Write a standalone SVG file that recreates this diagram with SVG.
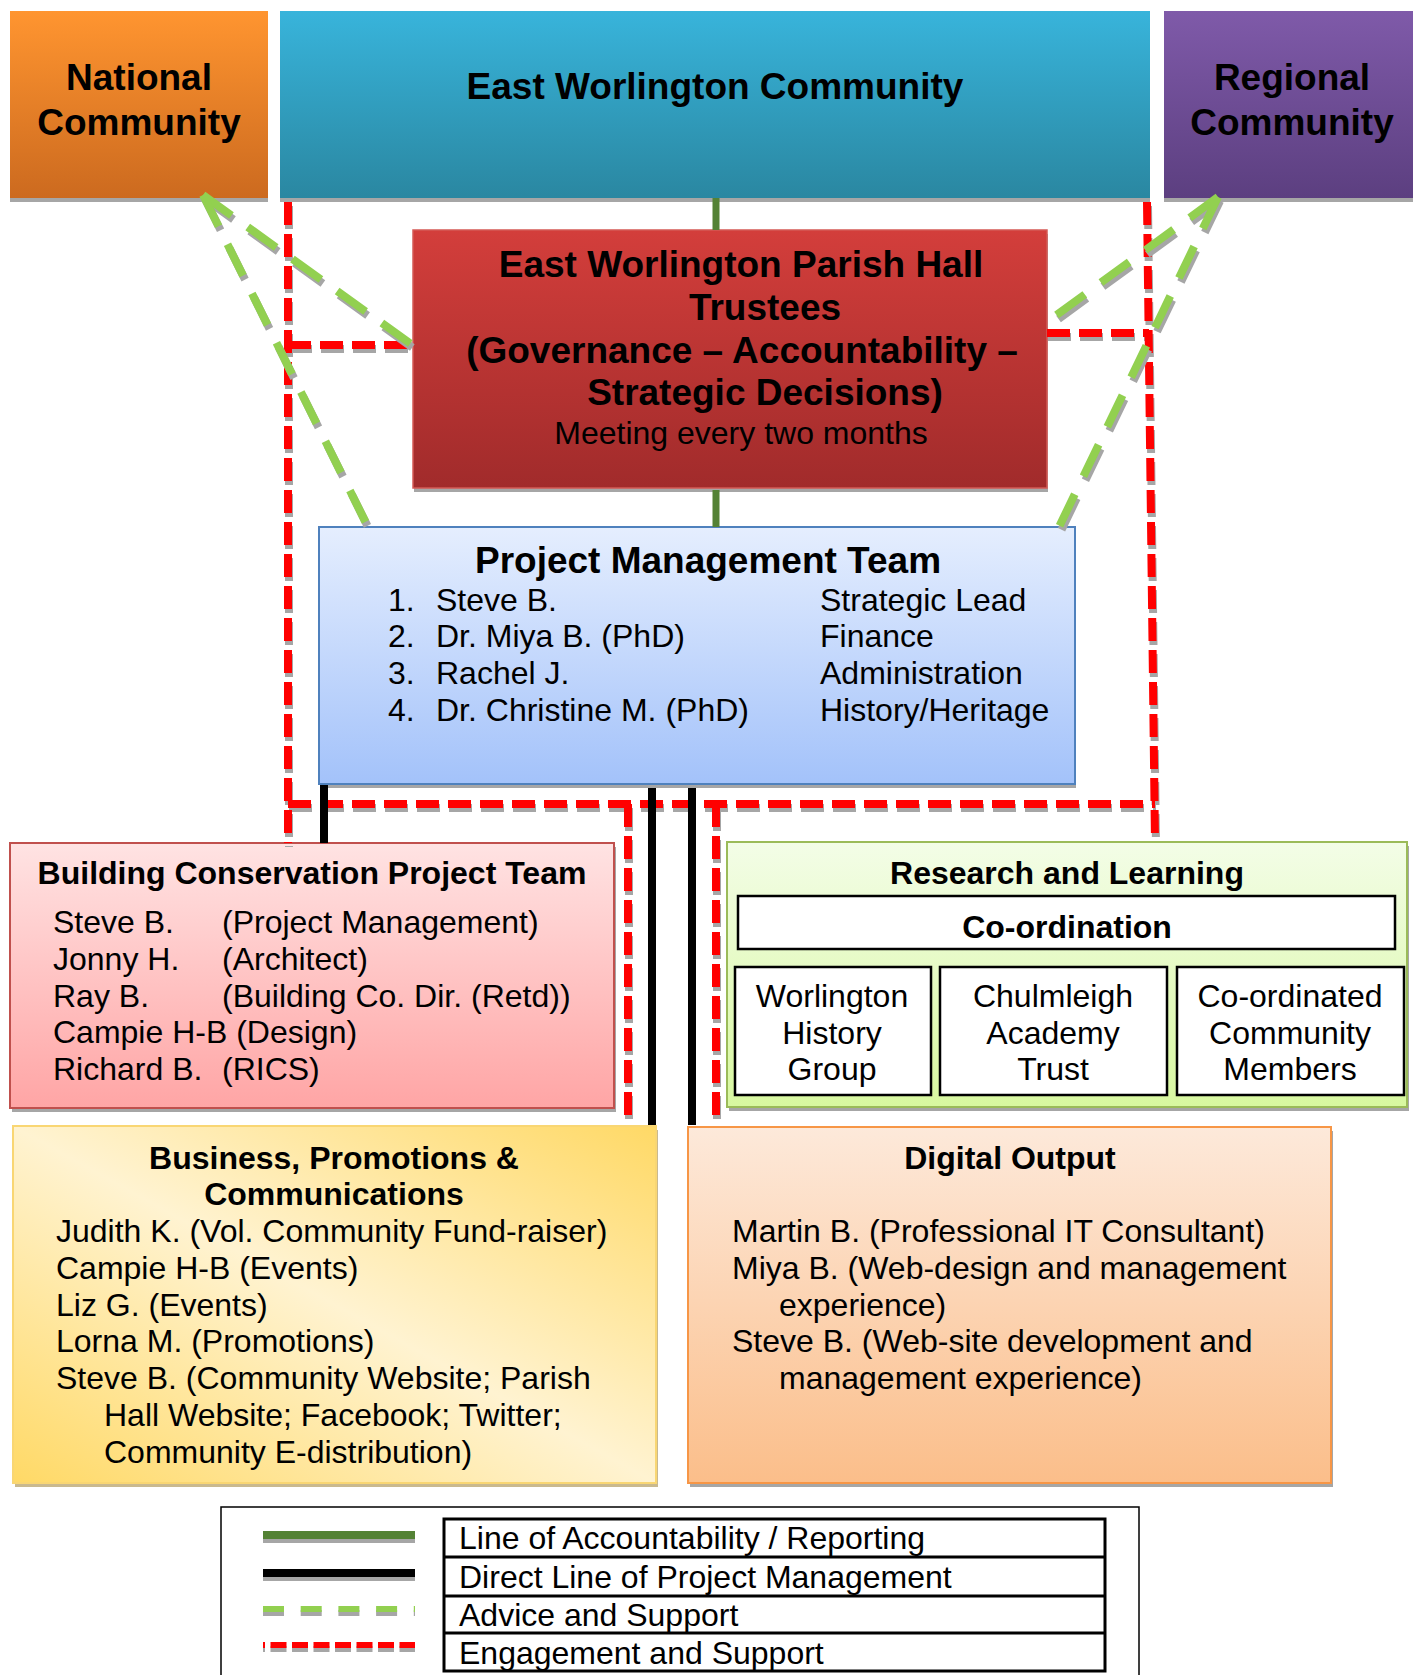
<svg xmlns="http://www.w3.org/2000/svg" xmlns:xlink="http://www.w3.org/1999/xlink" width="1413" height="1675" viewBox="0 0 1413 1675">
<defs>
<linearGradient id="gNat" x1="0" y1="0" x2="0" y2="1"><stop offset="0" stop-color="#FF9530"/><stop offset="1" stop-color="#CC6A1F"/></linearGradient>
<linearGradient id="gEast" x1="0" y1="0" x2="0" y2="1"><stop offset="0" stop-color="#38B4DB"/><stop offset="1" stop-color="#2A87A1"/></linearGradient>
<linearGradient id="gReg" x1="0" y1="0" x2="0" y2="1"><stop offset="0" stop-color="#7F5AA9"/><stop offset="1" stop-color="#5C3F80"/></linearGradient>
<linearGradient id="gTru" x1="0" y1="0" x2="0" y2="1"><stop offset="0" stop-color="#D33E3B"/><stop offset="1" stop-color="#A12B2B"/></linearGradient>
<linearGradient id="gPmt" x1="0" y1="0" x2="0" y2="1"><stop offset="0" stop-color="#E5EEFE"/><stop offset="1" stop-color="#A3C2FA"/></linearGradient>
<linearGradient id="gBld" x1="0" y1="0" x2="0" y2="1"><stop offset="0" stop-color="#FFE3E3"/><stop offset="1" stop-color="#FFA5A5"/></linearGradient>
<linearGradient id="gRes" x1="0" y1="0" x2="0" y2="1"><stop offset="0" stop-color="#F3FDE7"/><stop offset="1" stop-color="#D8F8A0"/></linearGradient>
<linearGradient id="gBus" x1="0" y1="1" x2="1" y2="0"><stop offset="0" stop-color="#FFD966"/><stop offset="0.5" stop-color="#FFF3D1"/><stop offset="1" stop-color="#FFD966"/></linearGradient>
<linearGradient id="gDig" x1="0" y1="0" x2="0" y2="1"><stop offset="0" stop-color="#FDE9DA"/><stop offset="1" stop-color="#FBBE8A"/></linearGradient>
<path id="r1" d="M288 202 V843"/>
<path id="r2" d="M288 345 H413"/>
<path id="r3" d="M1147 202 L1155 842"/>
<path id="r4" d="M1047 333 H1149"/>
<path id="r5" d="M288 804 H1155"/>
<path id="r6" d="M628 804 V1123"/>
<path id="r7" d="M716 804 V1123"/>
<path id="g1" d="M203 195 L411 344"/>
<path id="g2" d="M203 195 L368 527"/>
<path id="g3" d="M1218 197 L1047 322"/>
<path id="g4" d="M1218 197 L1059 527"/>
</defs>
<style>
text{font-family:"Liberation Sans",Arial,sans-serif;fill:#000}
.h37{font-size:37px;font-weight:bold}
.b32{font-size:32px;font-weight:bold}
.r32{font-size:32px}
.c{text-anchor:middle}
.sh{fill:#A6A6A6}
.red{fill:none;stroke:#FF0000;stroke-width:8;stroke-dasharray:23 9}
.redsh{fill:none;stroke:#A6A6A6;stroke-width:8;stroke-dasharray:23 9}
.grn{fill:none;stroke:#92D050;stroke-width:8;stroke-dasharray:35 20}
.grnsh{fill:none;stroke:#A6A6A6;stroke-width:8;stroke-dasharray:35 20}
.acc{fill:none;stroke:#548235;stroke-width:7}
.blk{fill:none;stroke:#000;stroke-width:8}
.wbox{fill:#fff;stroke:#000;stroke-width:2.5}
</style>

<g id="national">
<rect class="sh" x="10" y="15" width="258" height="187"/>
<rect x="10" y="11" width="258" height="187" fill="url(#gNat)"/>
<text class="h37 c" x="139" y="90">National</text>
<text class="h37 c" x="139" y="135">Community</text>
</g>

<g id="east-worlington">
<rect class="sh" x="280" y="15" width="870" height="187"/>
<rect x="280" y="11" width="870" height="187" fill="url(#gEast)"/>
<text class="h37 c" x="715" y="99">East Worlington Community</text>
</g>

<g id="regional">
<rect class="sh" x="1164" y="15" width="260" height="187"/>
<rect x="1164" y="11" width="260" height="187" fill="url(#gReg)"/>
<text class="h37 c" x="1292" y="90">Regional</text>
<text class="h37 c" x="1292" y="135">Community</text>
</g>

<g id="trustees">
<rect class="sh" x="414" y="234" width="634" height="258"/>
<rect x="413" y="230" width="634" height="258" fill="url(#gTru)" stroke="#D55A55" stroke-width="1.5"/>
<text class="h37 c" x="741" y="277">East Worlington Parish Hall</text>
<text class="h37 c" x="765" y="320">Trustees</text>
<text class="h37 c" x="742" y="363">(Governance – Accountability –</text>
<text class="h37 c" x="765" y="405">Strategic Decisions)</text>
<text class="r32 c" x="741" y="444">Meeting every two months</text>
</g>

<g id="project-management-team">
<rect class="sh" x="320" y="531" width="756" height="257"/>
<rect x="319" y="527" width="756" height="257" fill="url(#gPmt)" stroke="#4F81BD" stroke-width="2"/>
<text class="h37 c" x="708" y="573">Project Management Team</text>
<text class="r32" x="388" y="611">1.</text><text class="r32" x="436" y="611">Steve B.</text><text class="r32" x="820" y="611">Strategic Lead</text>
<text class="r32" x="388" y="647">2.</text><text class="r32" x="436" y="647">Dr. Miya B. (PhD)</text><text class="r32" x="820" y="647">Finance</text>
<text class="r32" x="388" y="684">3.</text><text class="r32" x="436" y="684">Rachel J.</text><text class="r32" x="820" y="684">Administration</text>
<text class="r32" x="388" y="721">4.</text><text class="r32" x="436" y="721">Dr. Christine M. (PhD)</text><text class="r32" x="820" y="721">History/Heritage</text>
</g>

<g id="building-conservation">
<rect class="sh" x="12" y="847" width="604" height="265"/>
<rect x="10" y="843" width="604" height="265" fill="url(#gBld)" stroke="#C0504D" stroke-width="2"/>
<text class="b32 c" x="312" y="884">Building Conservation Project Team</text>
<text class="r32" x="53" y="933">Steve B.</text><text class="r32" x="222" y="933">(Project Management)</text>
<text class="r32" x="53" y="970">Jonny H.</text><text class="r32" x="222" y="970">(Architect)</text>
<text class="r32" x="53" y="1007">Ray B.</text><text class="r32" x="222" y="1007">(Building Co. Dir. (Retd))</text>
<text class="r32" x="53" y="1043">Campie H-B (Design)</text>
<text class="r32" x="53" y="1080">Richard B.</text><text class="r32" x="222" y="1080">(RICS)</text>
</g>

<g id="research-learning">
<rect class="sh" x="729" y="846" width="680" height="265"/>
<rect x="727" y="842" width="680" height="265" fill="url(#gRes)" stroke="#9BBB59" stroke-width="2"/>
<text class="b32 c" x="1067" y="884">Research and Learning</text>
<rect class="wbox" x="738" y="896" width="657" height="53"/>
<text class="b32 c" x="1067" y="938">Co-ordination</text>
<rect class="wbox" x="735" y="967" width="196" height="128"/>
<text class="r32 c" x="832" y="1007">Worlington</text>
<text class="r32 c" x="832" y="1044">History</text>
<text class="r32 c" x="832" y="1080">Group</text>
<rect class="wbox" x="940" y="967" width="227" height="128"/>
<text class="r32 c" x="1053" y="1007">Chulmleigh</text>
<text class="r32 c" x="1053" y="1044">Academy</text>
<text class="r32 c" x="1053" y="1080">Trust</text>
<rect class="wbox" x="1177" y="967" width="227" height="128"/>
<text class="r32 c" x="1290" y="1007">Co-ordinated</text>
<text class="r32 c" x="1290" y="1044">Community</text>
<text class="r32 c" x="1290" y="1080">Members</text>
</g>

<g id="business">
<rect x="15" y="1130" width="643" height="357" fill="#C9B98F"/>
<rect x="13" y="1126" width="643" height="357" fill="url(#gBus)" stroke="#F9D673" stroke-width="2"/>
<text class="b32 c" x="334" y="1169">Business, Promotions &amp;</text>
<text class="b32 c" x="334" y="1205">Communications</text>
<text class="r32" x="56" y="1242">Judith K. (Vol. Community Fund-raiser)</text>
<text class="r32" x="56" y="1279">Campie H-B (Events)</text>
<text class="r32" x="56" y="1316">Liz G. (Events)</text>
<text class="r32" x="56" y="1352">Lorna M. (Promotions)</text>
<text class="r32" x="56" y="1389">Steve B. (Community Website; Parish</text>
<text class="r32" x="104" y="1426">Hall Website; Facebook; Twitter;</text>
<text class="r32" x="104" y="1463">Community E-distribution)</text>
</g>

<g id="digital-output">
<rect class="sh" x="690" y="1131" width="643" height="356"/>
<rect x="688" y="1127" width="643" height="356" fill="url(#gDig)" stroke="#F79646" stroke-width="2"/>
<text class="b32 c" x="1010" y="1169">Digital Output</text>
<text class="r32" x="732" y="1242">Martin B. (Professional IT Consultant)</text>
<text class="r32" x="732" y="1279">Miya B. (Web-design and management</text>
<text class="r32" x="779" y="1316">experience)</text>
<text class="r32" x="732" y="1352">Steve B. (Web-site development and</text>
<text class="r32" x="779" y="1389">management experience)</text>
</g>

<g id="connectors">
<g class="redsh" transform="translate(1,4)">
<use xlink:href="#r1"/><use xlink:href="#r2"/><use xlink:href="#r3"/><use xlink:href="#r4"/><use xlink:href="#r5"/><use xlink:href="#r6"/><use xlink:href="#r7"/>
</g>
<g class="red">
<use xlink:href="#r1"/><use xlink:href="#r2"/><use xlink:href="#r3"/><use xlink:href="#r4"/><use xlink:href="#r5"/><use xlink:href="#r6"/><use xlink:href="#r7"/>
</g>
<g class="grnsh" transform="translate(2,4)">
<use xlink:href="#g1"/><use xlink:href="#g2"/><use xlink:href="#g3"/><use xlink:href="#g4"/>
</g>
<g class="grn">
<use xlink:href="#g1"/><use xlink:href="#g2"/><use xlink:href="#g3"/><use xlink:href="#g4"/>
</g>
<path class="acc" d="M716 198 V230 M716 490 V527"/>
<path class="blk" d="M324 785 V843 M652 788 V1125 M692 788 V1125"/>
</g>

<g id="legend">
<rect x="221" y="1507" width="918" height="190" fill="#fff" stroke="#000" stroke-width="1.5"/>
<path d="M263 1539 H415" stroke="#A6A6A6" stroke-width="8"/>
<path d="M263 1535 H415" stroke="#548235" stroke-width="8"/>
<path d="M263 1577 H415" stroke="#A6A6A6" stroke-width="8"/>
<path d="M263 1573 H415" stroke="#000" stroke-width="8"/>
<path d="M263 1613 H415" stroke="#A6A6A6" stroke-width="6" stroke-dasharray="21 16.7"/>
<path d="M263 1609 H415" stroke="#92D050" stroke-width="6" stroke-dasharray="21 16.7"/>
<path d="M263 1649 H415" stroke="#A6A6A6" stroke-width="6" stroke-dasharray="16 5.5" stroke-dashoffset="14"/>
<path d="M263 1645 H415" stroke="#FF0000" stroke-width="6" stroke-dasharray="16 5.5" stroke-dashoffset="14"/>
<rect x="444" y="1519" width="661" height="152" fill="none" stroke="#000" stroke-width="3"/>
<path d="M444 1557 H1105 M444 1596 H1105 M444 1633 H1105" stroke="#000" stroke-width="3"/>
<text class="r32" x="459" y="1549">Line of Accountability / Reporting</text>
<text class="r32" x="459" y="1588">Direct Line of Project Management</text>
<text class="r32" x="459" y="1626">Advice and Support</text>
<text class="r32" x="459" y="1664">Engagement and Support</text>
</g>
</svg>
